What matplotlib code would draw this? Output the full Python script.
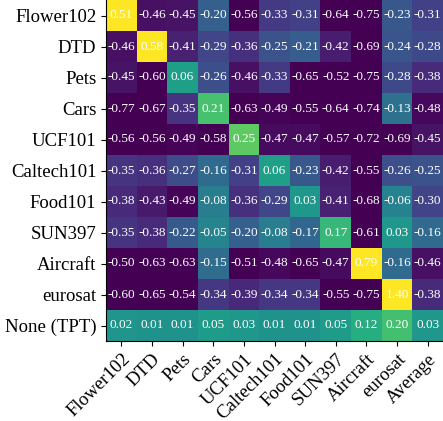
import numpy as np
import matplotlib
matplotlib.use("Agg")
import matplotlib.pyplot as plt

plt.rcParams['font.family'] = ['Liberation Serif', 'DejaVu Serif']

row_labels = ["Flower102", "DTD", "Pets", "Cars", "UCF101", "Caltech101",
              "Food101", "SUN397", "Aircraft", "eurosat", "None (TPT)"]
col_labels = ["Flower102", "DTD", "Pets", "Cars", "UCF101", "Caltech101",
              "Food101", "SUN397", "Aircraft", "eurosat", "Average"]

row_flower = [0.51, -0.46, -0.45, -0.20, -0.56, -0.33, -0.31, -0.64, -0.75, -0.23, -0.31]
row_dtd = [-0.46, 0.58, -0.41, -0.29, -0.36, -0.25, -0.21, -0.42, -0.69, -0.24, -0.28]
row_pets = [-0.45, -0.60, 0.06, -0.26, -0.46, -0.33, -0.65, -0.52, -0.75, -0.28, -0.38]
row_cars = [-0.77, -0.67, -0.35, 0.21, -0.63, -0.49, -0.55, -0.64, -0.74, -0.13, -0.48]
row_ucf = [-0.56, -0.56, -0.49, -0.58, 0.25, -0.47, -0.47, -0.57, -0.72, -0.69, -0.45]
row_caltech = [-0.35, -0.36, -0.27, -0.16, -0.31, 0.06, -0.23, -0.42, -0.55, -0.26, -0.25]
row_food = [-0.38, -0.43, -0.49, -0.08, -0.36, -0.29, 0.03, -0.41, -0.68, -0.06, -0.30]
row_sun = [-0.35, -0.38, -0.22, -0.05, -0.20, -0.08, -0.17, 0.17, -0.61, 0.03, -0.16]
row_aircraft = [-0.50, -0.63, -0.63, -0.15, -0.51, -0.48, -0.65, -0.47, 0.79, -0.16, -0.46]
row_eurosat = [-0.60, -0.65, -0.54, -0.34, -0.39, -0.34, -0.34, -0.55, -0.75, 1.40, -0.38]
row_none = [0.02, 0.01, 0.01, 0.05, 0.03, 0.01, 0.01, 0.05, 0.12, 0.20, 0.03]

data = np.array([row_flower, row_dtd, row_pets, row_cars, row_ucf, row_caltech,
                 row_food, row_sun, row_aircraft, row_eurosat, row_none])

fig = plt.figure(figsize=(4.43, 4.21), dpi=100)
ax = fig.add_axes([106/443, 80/421, 337/443, 341/421])
nr, nc = data.shape
ax.pcolormesh(np.arange(nc + 1), np.arange(nr + 1), data, cmap='viridis',
              vmin=-0.5, vmax=0.5)
ax.set_xlim(0, nc)
ax.set_ylim(nr, 0)
for i in range(nr):
    for j in range(nc):
        ax.text(j + 0.5, i + 0.5, f"{data[i, j]:.2f}", ha='center', va='center',
                color='white', fontsize=9.5)

ax.set_xticks(np.arange(nc) + 0.5)
ax.set_xticklabels(col_labels, rotation=45, ha='right', rotation_mode='anchor',
                   fontsize=13.5)
ax.set_yticks(np.arange(nr) + 0.5)
ax.set_yticklabels(row_labels, fontsize=13.5)
ax.tick_params(length=3.5, width=0.8)
ax.spines['top'].set_visible(False)
ax.spines['right'].set_visible(False)

fig.savefig("out.png", dpi=100)
